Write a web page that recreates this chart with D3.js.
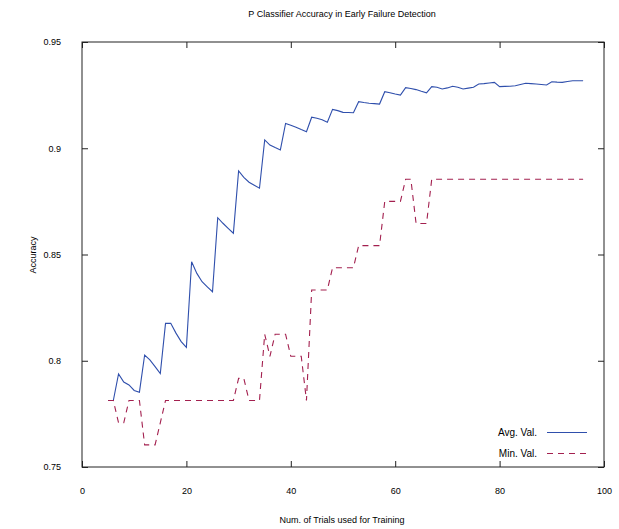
<!DOCTYPE html>
<html>
<head>
<meta charset="utf-8">
<script src="https://cdn.jsdelivr.net/npm/d3@7"></script>
<style>
  body { margin: 0; background: #fff; }
  svg text { font-family: "Liberation Sans", Arial, sans-serif; fill: #000; }
  .axis text { font-size: 9px; }
  .axis line { stroke: #222; }
</style>
</head>
<body>
<svg width="619" height="529"></svg>
<script>
// **** data ****

var trials = d3.range(5, 97);

var avgVal = [
    0.7813, 0.7813, 0.7938, 0.7900, 0.7886, 0.7860, 0.7852, 0.8027, 0.8004, 0.7972,
    0.7940, 0.8176, 0.8176, 0.8130, 0.8090, 0.8063, 0.8466, 0.8411, 0.8372, 0.8348,
    0.8325, 0.8673, 0.8647, 0.8623, 0.8600, 0.8893, 0.8863, 0.8840, 0.8826, 0.8812,
    0.9039, 0.9015, 0.9003, 0.8992, 0.9117, 0.9108, 0.9099, 0.9088, 0.9078, 0.9146,
    0.9141, 0.9134, 0.9122, 0.9183, 0.9177, 0.9169, 0.9168, 0.9167, 0.9219, 0.9215,
    0.9212, 0.9210, 0.9208, 0.9266, 0.9261, 0.9255, 0.9250, 0.9285, 0.9281, 0.9276,
    0.9268, 0.9261, 0.9290, 0.9287, 0.9279, 0.9284, 0.9292, 0.9287, 0.9279, 0.9283,
    0.9287, 0.9302, 0.9304, 0.9307, 0.9310, 0.9290, 0.9291, 0.9292, 0.9294, 0.9300,
    0.9306, 0.9304, 0.9302, 0.9300, 0.9298, 0.9313, 0.9311, 0.9310, 0.9314, 0.9318,
    0.9318, 0.9318
];

var minVal = [
    0.7813, 0.7813, 0.7708, 0.7708, 0.7813, 0.7813, 0.7813, 0.7604, 0.7604, 0.7604,
    0.7708, 0.7813, 0.7813, 0.7813, 0.7813, 0.7813, 0.7813, 0.7813, 0.7813, 0.7813,
    0.7813, 0.7813, 0.7813, 0.7813, 0.7813, 0.7917, 0.7917, 0.7813, 0.7813, 0.7813,
    0.8125, 0.8021, 0.8125, 0.8125, 0.8125, 0.8021, 0.8021, 0.8021, 0.7813, 0.8333,
    0.8333, 0.8333, 0.8333, 0.8438, 0.8438, 0.8438, 0.8438, 0.8438, 0.8542, 0.8542,
    0.8542, 0.8542, 0.8542, 0.8750, 0.8750, 0.8750, 0.8750, 0.8854, 0.8854, 0.8646,
    0.8646, 0.8646, 0.8854, 0.8854, 0.8854, 0.8854, 0.8854, 0.8854, 0.8854, 0.8854,
    0.8854, 0.8854, 0.8854, 0.8854, 0.8854, 0.8854, 0.8854, 0.8854, 0.8854, 0.8854,
    0.8854, 0.8854, 0.8854, 0.8854, 0.8854, 0.8854, 0.8854, 0.8854, 0.8854, 0.8854,
    0.8854, 0.8854
];

var xTicks = [0, 20, 40, 60, 80, 100];
var yTicks = [0.75, 0.8, 0.85, 0.9, 0.95];

var seriesNames = ["Avg. Val.", "Min. Val."];

// **** scales and axes ****

var plotLeft = 82, plotRight = 604, plotTop = 42, plotBottom = 467;

var xScale = d3.scaleLinear().domain([0, 100]).range([plotLeft, plotRight]);
var yScale = d3.scaleLinear().domain([0.75, 0.95]).range([plotBottom, plotTop]);

var svg = d3.select('svg');

svg.append('g').attr('class', 'axis')
    .attr('transform', 'translate(0,' + plotBottom + ')')
    .call(d3.axisBottom(xScale).tickValues(xTicks).tickSizeInner(-6).tickSizeOuter(0).tickPadding(21)
        .tickFormat(function(d) { return d; }));

svg.append('g').attr('class', 'axis')
    .attr('transform', 'translate(0,' + plotTop + ')')
    .call(d3.axisTop(xScale).tickValues(xTicks).tickSizeInner(-6).tickSizeOuter(0).tickFormat(''));

svg.append('g').attr('class', 'axis')
    .attr('transform', 'translate(' + plotLeft + ',0)')
    .call(d3.axisLeft(yScale).tickValues(yTicks).tickSizeInner(-6).tickSizeOuter(0).tickPadding(21)
        .tickFormat(function(d) { return d; }));

svg.append('g').attr('class', 'axis')
    .attr('transform', 'translate(' + plotRight + ',0)')
    .call(d3.axisRight(yScale).tickValues(yTicks).tickSizeInner(-6).tickSizeOuter(0).tickFormat(''));

svg.selectAll('.axis .domain').remove();

svg.append('rect')
    .attr('x', plotLeft).attr('y', plotTop)
    .attr('width', plotRight - plotLeft).attr('height', plotBottom - plotTop)
    .attr('fill', 'none').attr('stroke', '#222').attr('stroke-width', 1);

// labels and title
svg.append('text')
    .attr('text-anchor', 'middle')
    .attr('x', 342).attr('y', 17)
    .style('font-size', '9px')
    .text('P Classifier Accuracy in Early Failure Detection');

svg.append('text')
    .attr('text-anchor', 'middle')
    .attr('x', 342).attr('y', 523)
    .style('font-size', '9px')
    .text('Num. of Trials used for Training');

svg.append('text')
    .attr('text-anchor', 'middle')
    .attr('transform', 'translate(36,255) rotate(-90)')
    .style('font-size', '9px')
    .text('Accuracy');

// **** lines ****

var line = d3.line()
    .x(function(d) { return xScale(d[0]); })
    .y(function(d) { return yScale(d[1]); });

var colors = ['#2f4fac', '#a3204f'];
var dashes = [null, '6,5'];

[avgVal, minVal].forEach(function(vals, i) {
    svg.append('path')
        .datum(trials.map(function(t, j) { return [t, vals[j]]; }))
        .attr('fill', 'none')
        .attr('stroke', colors[i])
        .attr('stroke-width', 1.1)
        .attr('stroke-dasharray', dashes[i])
        .attr('d', line);
});

// legend
var legend = svg.selectAll('g.legend')
    .data(seriesNames)
    .enter()
    .append('g')
    .attr('class', 'legend')
    .attr('transform', function(d, i) { return 'translate(0,' + (432.5 + i * 21) + ')'; });

legend.append('text')
    .attr('x', 537).attr('dy', '0.35em')
    .attr('text-anchor', 'end')
    .style('font-size', '10px')
    .text(function(d) { return d; });

legend.append('line')
    .attr('x1', 547).attr('x2', 587)
    .attr('stroke', function(d, i) { return colors[i]; })
    .attr('stroke-width', 1.1)
    .attr('stroke-dasharray', function(d, i) { return dashes[i]; });
</script>
</body>
</html>
